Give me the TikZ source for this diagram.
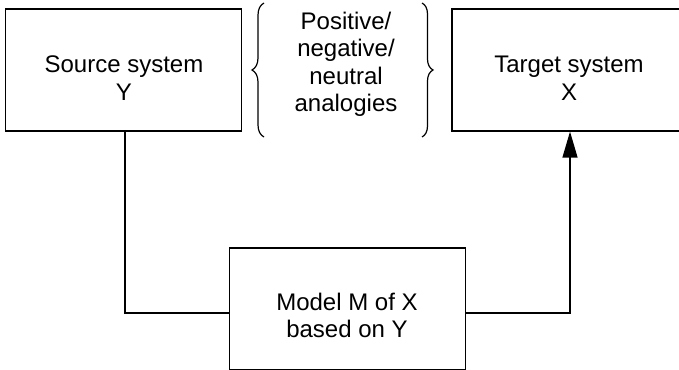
\documentclass[tikz,border=0pt]{standalone}
\usepackage{fontspec}
\setmainfont{Liberation Sans}
\usetikzlibrary{arrows.meta,decorations.pathreplacing}
\begin{document}
\begin{tikzpicture}[x=1pt,y=1pt,
  box/.style={draw,line width=1.2pt,minimum width=236pt,minimum height=122pt,inner sep=0pt},
  txt/.style={align=center,inner sep=0pt,font=\fontsize{24}{27.5}\selectfont},
  conn/.style={line width=1.2pt},
  bracestyle/.style={line width=1.2pt,decorate,decoration={brace,amplitude=12pt}}]
\useasboundingbox (0,0) rectangle (679,369);
\begin{scope}
\clip (0,0) rectangle (679,369);
\node[box] (src) at (123.5,299) {};
\node[box] (tgt) at (570,299) {};
\node[box] (model) at (347.5,60) {};
\end{scope}
\node[txt] (srct) at (124,291) {Source system\\Y};
\node[txt] (tgtt) at (569,291) {Target system\\X};
\node[txt] (anat) at (346,304.5) {Positive/\\negative/\\neutral\\analogies};
\node[txt] (modt) at (347,53.5) {Model M of X\\based on Y};
\coordinate (lb1) at (264,232);
\coordinate (lb2) at (264,366);
\coordinate (rb1) at (422,366);
\coordinate (rb2) at (422,232);
\draw[bracestyle] (lb1) -- (lb2);
\draw[bracestyle,decoration={amplitude=11pt}] (rb1) -- (rb2);
\coordinate (ml) at ([yshift=-4pt]model.west);
\coordinate (mr) at ([yshift=-4pt]model.east);
\draw[conn] ([xshift=1.5pt]src.south) |- (ml);
\draw[conn,-{Triangle[length=26pt,width=15pt]}] (mr) -| (tgt.south);
\end{tikzpicture}
\end{document}
